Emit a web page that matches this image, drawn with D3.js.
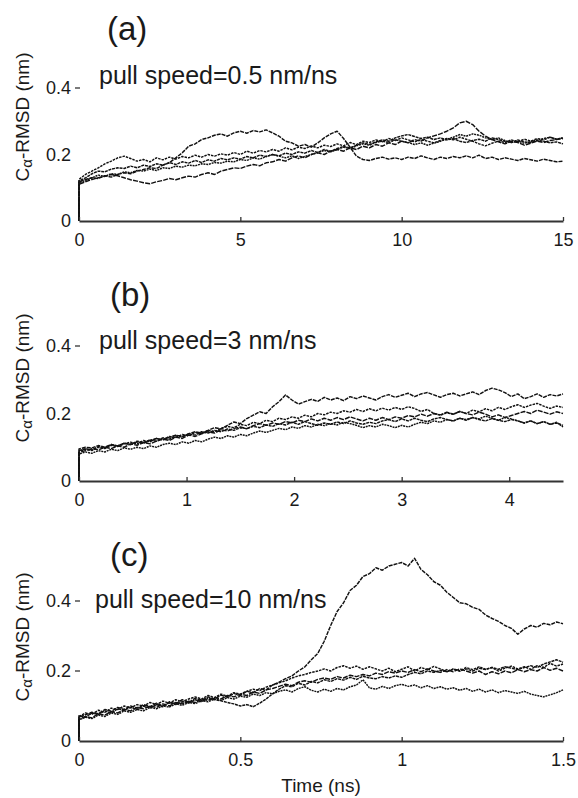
<!DOCTYPE html>
<html><head><meta charset="utf-8">
<script src="https://cdn.jsdelivr.net/npm/d3@7"></script>
<style>
body{margin:0;background:#fff}
svg{display:block}
text{font-family:"Liberation Sans",Arial,Helvetica,sans-serif;fill:#1a1a1a}
</style>
</head><body>
<script>
// ---------------- DATA ----------------
const panelLabels = ["(a)", "(b)", "(c)"];
const speedLabels = ["pull speed=0.5 nm/ns", "pull speed=3 nm/ns", "pull speed=10 nm/ns"];
const xMaxes = [15, 4.5, 1.5];
const timeSteps = [0.2, 0.06, 0.02];   // sampling interval (ns) of the traces
const samplesPerTrace = 76;
const xTicksA = [0, 5, 10, 15];
const xTicksB = [0, 1, 2, 3, 4];
const xTicksC = [0, 0.5, 1, 1.5];
const xTickLabelsC = ["0", "0.5", "1", "1.5"];
const yTicks = [0, 0.2, 0.4];
const yTickLabels = ["0", "0.2", "0.4"];
const yMax = 0.6;
const xTitle = "Time (ns)";

// RMSD (nm); first value is t=0 start (0), then samples at i*step
const rmsdA1 = [0,
 .118,.125,.13,.128,.136,.132,.14,.145,.142,.15,
 .155,.16,.158,.168,.175,.19,.205,.225,.232,.245,
 .25,.258,.262,.255,.265,.27,.264,.272,.268,.274,
 .265,.255,.24,.235,.225,.23,.222,.235,.25,.262,
 .27,.248,.222,.195,.185,.182,.188,.192,.186,.19,
 .185,.192,.188,.196,.19,.185,.192,.188,.194,.19,
 .196,.19,.198,.188,.192,.185,.19,.186,.182,.188,
 .184,.18,.186,.182,.178,.18];
const rmsdA2 = [0,
 .125,.14,.15,.16,.172,.18,.19,.195,.188,.18,
 .185,.178,.19,.184,.192,.186,.194,.19,.198,.192,
 .2,.195,.202,.198,.206,.2,.21,.204,.212,.208,
 .215,.21,.22,.214,.222,.218,.226,.22,.228,.224,
 .232,.226,.236,.23,.24,.236,.244,.238,.248,.242,
 .25,.244,.238,.245,.24,.235,.242,.248,.244,.252,
 .246,.24,.232,.226,.234,.24,.236,.244,.238,.246,
 .24,.248,.244,.252,.246,.25];
const rmsdA3 = [0,
 .11,.118,.125,.13,.135,.14,.136,.13,.124,.12,
 .115,.112,.118,.122,.128,.124,.13,.135,.132,.14,
 .145,.14,.15,.155,.16,.158,.165,.17,.166,.175,
 .178,.185,.18,.19,.196,.19,.2,.205,.2,.21,
 .215,.21,.22,.215,.225,.22,.23,.225,.235,.23,
 .24,.235,.245,.24,.25,.256,.262,.27,.28,.295,
 .3,.29,.27,.255,.245,.238,.232,.24,.236,.228,
 .234,.24,.236,.242,.245,.248];
const rmsdA4 = [0,
 .12,.13,.142,.15,.148,.156,.16,.158,.165,.16,
 .168,.164,.172,.168,.176,.17,.178,.174,.182,.176,
 .184,.18,.188,.184,.19,.186,.194,.19,.198,.194,
 .2,.196,.204,.2,.208,.204,.212,.206,.215,.21,
 .218,.224,.22,.228,.235,.23,.238,.244,.24,.25,
 .256,.26,.254,.248,.252,.245,.25,.244,.248,.24,
 .236,.242,.246,.24,.25,.245,.24,.236,.244,.238,
 .236,.242,.24,.235,.238,.232];
const rmsdA5 = [0,
 .115,.122,.13,.138,.134,.142,.14,.148,.145,.152,
 .15,.156,.152,.16,.158,.165,.162,.168,.166,.172,
 .17,.176,.174,.18,.178,.185,.182,.19,.186,.194,
 .2,.195,.19,.196,.188,.194,.2,.206,.212,.208,
 .215,.222,.218,.226,.232,.228,.236,.24,.236,.244,
 .24,.236,.23,.235,.228,.234,.24,.246,.252,.26,
 .255,.262,.258,.25,.245,.25,.242,.236,.24,.234,
 .238,.244,.248,.252,.246,.25];

const rmsdB1 = [0,
 .095,.1,.098,.105,.1,.108,.104,.112,.108,.116,
 .112,.12,.126,.122,.13,.136,.132,.14,.146,.142,
 .15,.158,.154,.165,.175,.17,.185,.195,.205,.2,
 .22,.235,.255,.24,.228,.235,.242,.236,.248,.24,
 .246,.238,.25,.244,.252,.246,.24,.25,.256,.248,
 .254,.26,.25,.258,.262,.255,.248,.256,.26,.252,
 .258,.264,.256,.268,.275,.27,.262,.25,.258,.244,
 .25,.258,.248,.256,.252,.258];
const rmsdB2 = [0,
 .088,.094,.09,.1,.096,.106,.102,.11,.115,.11,
 .12,.116,.126,.122,.132,.128,.138,.134,.144,.14,
 .15,.146,.156,.162,.158,.168,.164,.174,.17,.18,
 .176,.186,.182,.19,.186,.195,.19,.2,.196,.204,
 .2,.208,.204,.212,.206,.214,.208,.216,.21,.218,
 .212,.22,.215,.206,.212,.2,.195,.202,.198,.206,
 .2,.21,.205,.214,.208,.218,.212,.22,.226,.218,
 .225,.23,.222,.215,.222,.218];
const rmsdB3 = [0,
 .085,.09,.096,.092,.1,.096,.104,.1,.11,.106,
 .114,.11,.118,.124,.12,.13,.126,.136,.132,.14,
 .146,.142,.152,.148,.156,.16,.155,.164,.17,.165,
 .172,.168,.176,.172,.18,.176,.184,.178,.186,.18,
 .188,.182,.19,.184,.178,.186,.18,.188,.182,.19,
 .186,.194,.19,.198,.192,.2,.196,.204,.198,.206,
 .2,.196,.204,.198,.19,.196,.188,.194,.2,.206,
 .2,.21,.204,.198,.205,.2];
const rmsdB4 = [0,
 .09,.096,.092,.102,.098,.108,.104,.112,.108,.118,
 .114,.122,.118,.128,.124,.134,.13,.14,.136,.146,
 .142,.15,.146,.154,.15,.158,.155,.162,.158,.166,
 .162,.17,.166,.174,.168,.176,.17,.165,.172,.168,
 .175,.17,.178,.172,.168,.174,.17,.178,.182,.176,
 .184,.178,.186,.18,.176,.184,.188,.182,.178,.186,
 .18,.188,.182,.178,.185,.18,.176,.182,.178,.172,
 .178,.17,.176,.168,.172,.165];
const rmsdB5 = [0,
 .08,.086,.082,.09,.086,.094,.09,.098,.094,.1,
 .096,.104,.1,.108,.112,.108,.116,.112,.12,.116,
 .124,.13,.126,.134,.13,.138,.134,.142,.148,.144,
 .15,.156,.152,.16,.156,.164,.16,.168,.164,.17,
 .166,.174,.17,.165,.158,.164,.16,.168,.164,.158,
 .165,.16,.168,.174,.17,.178,.174,.182,.178,.186,
 .182,.188,.184,.192,.186,.18,.188,.184,.178,.172,
 .178,.17,.176,.168,.174,.16];

const rmsdC1 = [0,
 .068,.075,.082,.078,.09,.085,.096,.09,.1,.094,
 .104,.098,.108,.1,.112,.106,.118,.11,.122,.116,
 .126,.12,.131,.125,.136,.13,.142,.138,.15,.146,
 .16,.168,.178,.186,.2,.212,.232,.25,.285,.33,
 .37,.395,.43,.445,.47,.478,.495,.488,.5,.505,
 .51,.5,.522,.49,.475,.455,.445,.425,.41,.395,
 .392,.382,.376,.36,.35,.342,.33,.322,.305,.32,
 .33,.325,.336,.332,.34,.335];
const rmsdC2 = [0,
 .07,.08,.076,.088,.082,.094,.09,.1,.095,.104,
 .1,.11,.104,.114,.108,.118,.112,.12,.126,.12,
 .13,.124,.134,.128,.138,.134,.142,.148,.144,.154,
 .16,.166,.172,.18,.186,.19,.196,.2,.206,.2,
 .21,.215,.208,.214,.205,.212,.206,.2,.208,.198,
 .205,.212,.2,.21,.204,.213,.206,.198,.206,.2,
 .21,.204,.212,.205,.21,.2,.208,.214,.206,.212,
 .205,.215,.21,.222,.214,.22];
const rmsdC3 = [0,
 .062,.07,.066,.078,.074,.084,.08,.09,.086,.096,
 .092,.1,.096,.106,.1,.11,.106,.114,.11,.12,
 .116,.124,.12,.13,.126,.134,.13,.14,.136,.146,
 .15,.156,.162,.158,.168,.172,.168,.176,.18,.176,
 .184,.18,.188,.184,.19,.186,.194,.19,.198,.194,
 .2,.196,.204,.198,.206,.2,.196,.204,.198,.206,
 .2,.194,.2,.19,.198,.192,.2,.195,.204,.198,
 .204,.2,.21,.202,.208,.2];
const rmsdC4 = [0,
 .072,.068,.08,.076,.086,.08,.092,.088,.096,.09,
 .1,.094,.104,.098,.11,.104,.112,.108,.118,.112,
 .122,.118,.115,.11,.106,.1,.104,.098,.108,.12,
 .135,.148,.158,.155,.165,.16,.17,.166,.175,.17,
 .178,.174,.182,.176,.185,.18,.178,.184,.18,.186,
 .182,.19,.196,.192,.2,.196,.202,.198,.205,.2,
 .206,.2,.208,.204,.21,.205,.212,.208,.204,.21,
 .215,.21,.22,.226,.232,.225];
const rmsdC5 = [0,
 .06,.068,.064,.074,.07,.08,.076,.086,.082,.09,
 .086,.096,.092,.1,.097,.106,.102,.11,.107,.115,
 .112,.12,.116,.124,.12,.128,.125,.134,.13,.138,
 .135,.142,.146,.14,.15,.155,.145,.14,.148,.142,
 .15,.146,.155,.16,.175,.152,.148,.156,.15,.158,
 .162,.156,.16,.152,.158,.15,.155,.148,.152,.145,
 .15,.142,.148,.14,.146,.138,.144,.14,.136,.142,
 .134,.13,.126,.132,.138,.146];

const seriesA = [rmsdA1, rmsdA2, rmsdA3, rmsdA4, rmsdA5];
const seriesB = [rmsdB1, rmsdB2, rmsdB3, rmsdB4, rmsdB5];
const seriesC = [rmsdC1, rmsdC2, rmsdC3, rmsdC4, rmsdC5];

// ---------------- LAYOUT ----------------
const W = 578, H = 798;
const xLeft = 79, xRight = 563;
const layout = [
  {bottom: 221, top: 21.5, labelX: 107, labelY: 40, noteX: 99, noteY: 84, titleY: 117, dashTicks: [0.4]},
  {bottom: 481, top: 278.5, labelX: 110, labelY: 306, noteX: 99, noteY: 349, titleY: 378, dashTicks: [0.4]},
  {bottom: 741, top: 531, labelX: 110, labelY: 566, noteX: 95, noteY: 608, titleY: 637, dashTicks: [0.2, 0.4]}
];
const dashes = ["4,1", "2.5,1", "5,1.2", "3,0.8", "2,0.8"];

const svg = d3.select("body").append("svg").attr("width", W).attr("height", H);

const panelData = [
  {series: seriesA, ticks: xTicksA, fmt: d => String(d)},
  {series: seriesB, ticks: xTicksB, fmt: d => String(d)},
  {series: seriesC, ticks: xTicksC, fmt: (d, i) => xTickLabelsC[i]}
];

panelData.forEach((p, k) => {
  const L = layout[k];
  const g = svg.append("g");
  const x = d3.scaleLinear().domain([0, xMaxes[k]]).range([xLeft, xRight]);
  const y = d3.scaleLinear().domain([0, yMax]).range([L.bottom, L.top]);
  const times = [0].concat(d3.range(samplesPerTrace).map(i => i * timeSteps[k]));

  const line = d3.line().x((d, i) => x(times[i])).y(d => y(d));

  g.selectAll("path.trace").data(p.series).join("path")
    .attr("class", "trace")
    .attr("d", d => line(d))
    .attr("fill", "none")
    .attr("stroke", "#111")
    .attr("stroke-width", 1.45)
    .attr("stroke-dasharray", (d, i) => dashes[i])
    .attr("stroke-linejoin", "round");

  // x axis
  const xa = g.append("g").attr("transform", `translate(0,${L.bottom})`)
    .call(d3.axisBottom(x).tickValues(p.ticks).tickFormat(p.fmt)
      .tickSizeInner(-4).tickSizeOuter(0).tickPadding(12));
  xa.select(".domain").attr("stroke", "#333").attr("stroke-width", 2);
  xa.selectAll(".tick line").attr("stroke", "#333").attr("stroke-width", 1.3);
  xa.selectAll(".tick text").attr("font-size", 18).attr("fill", "#1a1a1a")
    .attr("font-family", '"Liberation Sans",Arial,sans-serif');

  // y axis
  const ya = g.append("g").attr("transform", `translate(${xLeft},0)`)
    .call(d3.axisLeft(y).tickValues(yTicks).tickFormat((d, i) => yTickLabels[i])
      .tickSize(0).tickPadding(8));
  ya.select(".domain").remove();
  ya.selectAll(".tick text").attr("font-size", 18).attr("fill", "#1a1a1a")
    .attr("font-family", '"Liberation Sans",Arial,sans-serif');
  g.selectAll("line.ydash").data(L.dashTicks).join("line")
    .attr("class", "ydash")
    .attr("x1", xLeft - 4).attr("x2", xLeft + 1)
    .attr("y1", d => y(d)).attr("y2", d => y(d))
    .attr("stroke", "#333").attr("stroke-width", 1.3);

  // panel label
  g.append("text").attr("x", L.labelX).attr("y", L.labelY)
    .attr("font-size", 33).text(panelLabels[k]);
  // annotation
  g.append("text").attr("x", L.noteX).attr("y", L.noteY)
    .attr("font-size", 25).text(speedLabels[k]);
  // y title
  const t = g.append("text")
    .attr("transform", `translate(29,${L.titleY}) rotate(-90)`)
    .attr("text-anchor", "middle").attr("font-size", 19);
  t.append("tspan").text("C");
  t.append("tspan").attr("font-size", 15).attr("dy", 3).text("α");
  t.append("tspan").attr("dy", -3).text("-RMSD (nm)");
});

svg.append("text").attr("x", (xLeft + xRight) / 2).attr("y", 792)
  .attr("text-anchor", "middle").attr("font-size", 19).text(xTitle);
</script>
</body></html>
